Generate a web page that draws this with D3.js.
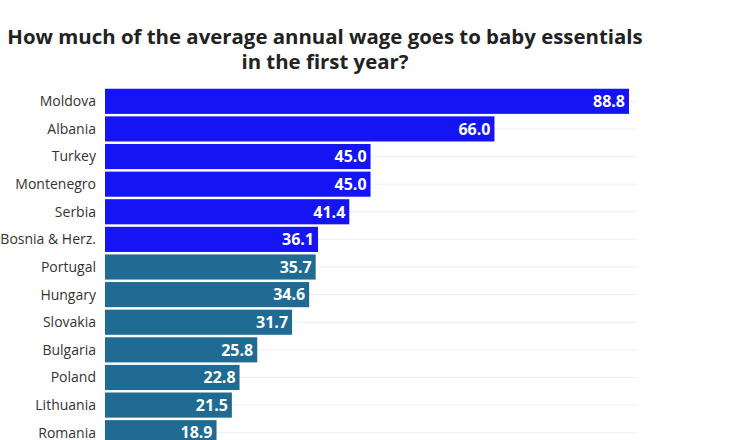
<!DOCTYPE html>
<html><head><meta charset="utf-8">
<script src="https://cdn.jsdelivr.net/npm/d3@7"></script>
<style>body{margin:0;background:#fff}</style>
</head><body><svg id="chart" width="730" height="440"></svg>
<script>
const countries = ["Moldova","Albania","Turkey","Montenegro","Serbia","Bosnia & Herz.","Portugal","Hungary","Slovakia","Bulgaria","Poland","Lithuania","Romania"]
const values = [88.8,66.0,45.0,45.0,41.4,36.1,35.7,34.6,31.7,25.8,22.8,21.5,18.9]
const nonEU = ["Moldova","Albania","Turkey","Montenegro","Serbia","Bosnia & Herz."]

const svg = d3.select("#chart")
const x = d3.scaleLinear().domain([0, 88.8]).range([105, 629])
const y = d3.scaleBand().domain(countries).range([87.5, 446.5]).paddingInner(0.09).paddingOuter(0.045)

svg.append("text").attr("x", 325).attr("y", 44).attr("text-anchor", "middle")
   .attr("font-family", "Open Sans").attr("font-weight", 700).attr("font-size", 20.4).attr("fill", "#222")
   .text("How much of the average annual wage goes to baby essentials")
svg.append("text").attr("x", 325).attr("y", 69).attr("text-anchor", "middle")
   .attr("font-family", "Open Sans").attr("font-weight", 700).attr("font-size", 20.4).attr("fill", "#222")
   .text("in the first year?")

// faint row gridlines
svg.append("g").selectAll("line").data(countries).join("line")
   .attr("x1", x(0)).attr("x2", 637)
   .attr("y1", d => y(d) + y.bandwidth() / 2).attr("y2", d => y(d) + y.bandwidth() / 2)
   .attr("stroke", "#eeeeee")

svg.append("g").selectAll("rect").data(countries).join("rect")
   .attr("x", x(0)).attr("y", d => y(d))
   .attr("width", (d, i) => x(values[i]) - x(0)).attr("height", y.bandwidth())
   .attr("fill", d => nonEU.includes(d) ? "#1414f4" : "#1f6b94")

svg.append("g").selectAll("text").data(countries).join("text")
   .attr("x", 96).attr("y", d => y(d) + y.bandwidth() / 2)
   .attr("dy", "0.35em").attr("text-anchor", "end")
   .attr("font-family", "Open Sans").attr("font-size", 14).attr("fill", "#333")
   .text(d => d)

svg.append("g").selectAll("text").data(countries).join("text")
   .attr("x", (d, i) => x(values[i]) - 4).attr("y", d => y(d) + y.bandwidth() / 2)
   .attr("dy", "0.36em").attr("text-anchor", "end")
   .attr("font-family", "Open Sans").attr("font-weight", 700).attr("font-size", 16).attr("fill", "#fff")
   .text((d, i) => values[i].toFixed(1))
</script></body></html>
